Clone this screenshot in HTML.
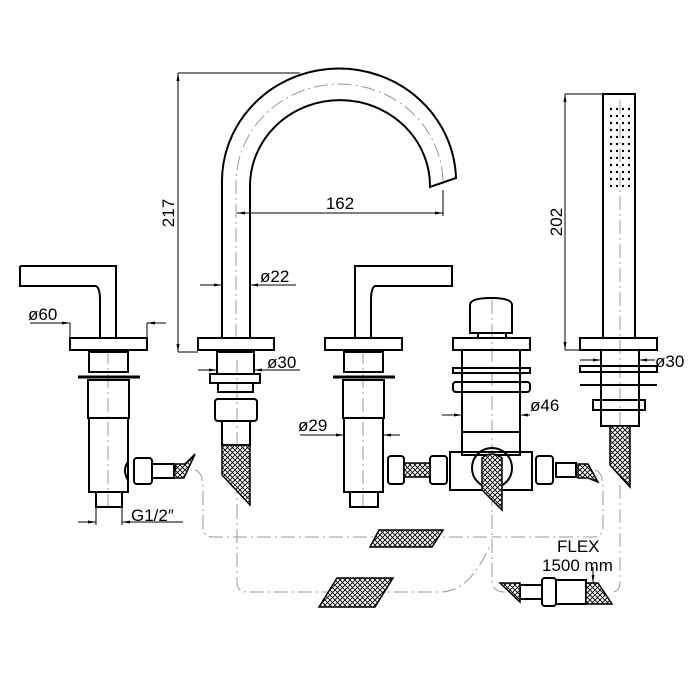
<!DOCTYPE html>
<html><head><style>body{margin:0;background:#fff}svg{display:block}</style></head><body>
<svg width="700" height="700" viewBox="0 0 700 700" xmlns="http://www.w3.org/2000/svg" font-family="Liberation Sans, sans-serif">
<defs>
<pattern id="h" width="5" height="5" patternUnits="userSpaceOnUse"><rect width="5" height="5" fill="#fff"/><path d="M0,0L5,5M5,0L0,5" stroke="#000" stroke-width="0.9"/></pattern>
<marker id="a" markerWidth="8" markerHeight="6" refX="8" refY="3" orient="auto"><path d="M0,1.5L8,3L0,4.5Z" fill="#000"/></marker>
</defs>
<g fill="none" stroke="#999" stroke-width="1" stroke-dasharray="14,4,2,4">
<path d="M195,470 Q203,472 203,490 L203,527 Q203,537 213,537 L490,537"/>
<path d="M237,505 L237,582 Q237,592 247,592 L440,592 Q470,592 490,545"/>
<path d="M492,515 L492,580 Q492,592 505,592"/>
<path d="M595,470 Q603,472 603,490 L603,527 Q603,537 593,537 L492,537"/>
<path d="M620,485 L620,582 Q620,592 612,592"/>
<path d="M108,350 V510 M237,360 V520 M363,350 V510 M492,300 V520 M620,100 V440"/>
<path d="M236,338 V185 A101 97 0 0 1 443,182"/>
</g>
<g fill="none" stroke="#000" stroke-width="2">
<!-- left valve -->
<path d="M20,266H116V338M20,266V286H96Q100,288 100,300V338"/>
<rect x="70" y="338" width="77" height="12"/>
<rect x="89" y="352" width="39" height="20"/>
<line x1="78" y1="377" x2="140" y2="377" stroke-width="3"/>
<rect x="88" y="380" width="41" height="38"/>
<rect x="89" y="418" width="39" height="74"/>
<rect x="96" y="492" width="26" height="15"/>
<rect x="134" y="458" width="18" height="26" rx="3"/>
<rect x="152" y="464" width="22" height="14"/>
<path d="M128,462 Q122,470 128,480"/>
<!-- spout -->
<path d="M222,338V185A115 111 0 0 1 456,178L430,187A87 83 0 0 0 250,185V338"/>
<rect x="198" y="338" width="76" height="12"/>
<rect x="217" y="352" width="37" height="22"/>
<rect x="210" y="374" width="50" height="9"/>
<rect x="218" y="383" width="35" height="9"/>
<rect x="215" y="399" width="42" height="22" rx="3"/>
<rect x="222" y="421" width="28" height="24"/>
<!-- middle valve -->
<path d="M355,338V266H452V286H375Q371,288 371,300V338"/>
<rect x="325" y="338" width="77" height="12"/>
<rect x="344" y="352" width="39" height="20"/>
<line x1="333" y1="377" x2="395" y2="377" stroke-width="3"/>
<rect x="343" y="380" width="41" height="38"/>
<rect x="344" y="418" width="39" height="74"/>
<rect x="350" y="492" width="28" height="15"/>
<rect x="388" y="456" width="16" height="28" rx="3"/>
<rect x="430" y="456" width="17" height="28" rx="3"/>
<!-- diverter -->
<path d="M470,333V305Q470,298 491,298Q512,298 512,305V333Z"/>
<rect x="478" y="333" width="28" height="5"/>
<rect x="453" y="338" width="77" height="12"/>
<rect x="462" y="350" width="58" height="105"/>
<rect x="453" y="368" width="77" height="5"/>
<rect x="453" y="382" width="77" height="10" rx="3"/>
<line x1="462" y1="432" x2="520" y2="432"/>
<rect x="450" y="452" width="82" height="38"/>
<circle cx="492" cy="468" r="20"/>
<rect x="536" y="456" width="17" height="28" rx="3"/>
<rect x="556" y="463" width="20" height="14"/>
<!-- shower -->
<rect x="603" y="94" width="32" height="244"/>
<rect x="580" y="338" width="77" height="12"/>
<rect x="601" y="350" width="38" height="76"/>
<rect x="580" y="366" width="77" height="6"/>
<line x1="580" y1="385" x2="657" y2="385"/>
<rect x="593" y="400" width="52" height="10"/>
<!-- bottom fitting -->
<rect x="520" y="585" width="22" height="14"/>
<rect x="542" y="578" width="14" height="28" rx="3"/>
<rect x="556" y="580" width="30" height="24"/>
</g>
<g fill="url(#h)" stroke="#000" stroke-width="1.5">
<path d="M222,445H250V505L222,475Z"/>
<path d="M610,426H630V487L610,465Z"/>
<path d="M482,458Q492,450 502,458V510L482,490Z"/>
<path d="M176,464H185L195,454L184,478H174Z"/>
<path d="M404,463H430V477H404Z"/>
<path d="M578,464H588L598,482L588,478H578Z"/>
<path d="M370,547L379,530H443L432,547Z"/>
<path d="M319,607L337,578H393L375,607Z"/>
<path d="M500,583H520V602Z"/>
<path d="M586,583H598L612,604H586Z"/>
</g>
<g fill="#000">
<g id="dots"><circle cx="611" cy="109" r="1.2"/><circle cx="617" cy="109" r="1.2"/><circle cx="623" cy="109" r="1.2"/><circle cx="629" cy="109" r="1.2"/></g>
<use href="#dots" y="7"/><use href="#dots" y="14"/><use href="#dots" y="21"/><use href="#dots" y="28"/><use href="#dots" y="35"/><use href="#dots" y="42"/><use href="#dots" y="49"/><use href="#dots" y="56"/><use href="#dots" y="63"/><use href="#dots" y="70"/><use href="#dots" y="77"/>
</g>
<!-- dimensions -->
<g stroke="#000" stroke-width="1" fill="none">
<path d="M178,73H300M178,352H198"/>
<line x1="178" y1="352" x2="178" y2="73" marker-end="url(#a)"/>
<line x1="178" y1="73" x2="178" y2="352" marker-end="url(#a)"/>
<line x1="443" y1="190" x2="443" y2="216"/>
<line x1="340" y1="213" x2="237" y2="213" marker-end="url(#a)"/>
<line x1="340" y1="213" x2="443" y2="213" marker-end="url(#a)"/>
<path d="M565,94H603M565,350H580"/>
<line x1="565" y1="250" x2="565" y2="94" marker-end="url(#a)"/>
<line x1="565" y1="250" x2="565" y2="350" marker-end="url(#a)"/>
<line x1="30" y1="323" x2="70" y2="323" marker-end="url(#a)"/>
<line x1="166" y1="323" x2="147" y2="323" marker-end="url(#a)"/>
<line x1="70" y1="323" x2="70" y2="338"/><line x1="147" y1="323" x2="147" y2="338"/>
<line x1="200" y1="285" x2="222" y2="285" marker-end="url(#a)"/>
<line x1="296" y1="285" x2="250" y2="285" marker-end="url(#a)"/>
<line x1="198" y1="370" x2="217" y2="370" marker-end="url(#a)"/>
<line x1="300" y1="370" x2="254" y2="370" marker-end="url(#a)"/>
<line x1="300" y1="435" x2="344" y2="435" marker-end="url(#a)"/>
<line x1="400" y1="435" x2="383" y2="435" marker-end="url(#a)"/>
<line x1="442" y1="415" x2="462" y2="415" marker-end="url(#a)"/>
<line x1="530" y1="415" x2="520" y2="415" marker-end="url(#a)"/>
<line x1="580" y1="360" x2="601" y2="360" marker-end="url(#a)"/>
<line x1="655" y1="360" x2="639" y2="360" marker-end="url(#a)"/>
<line x1="78" y1="522" x2="96" y2="522" marker-end="url(#a)"/>
<line x1="183" y1="522" x2="122" y2="522" marker-end="url(#a)"/>
<line x1="96" y1="507" x2="96" y2="525"/><line x1="122" y1="507" x2="122" y2="525"/>
<line x1="593" y1="567" x2="593" y2="583" marker-end="url(#a)"/>
</g>
<g font-size="17" fill="#000">
<text x="174" y="213" transform="rotate(-90 174 213)" text-anchor="middle">217</text>
<text x="340" y="209" text-anchor="middle">162</text>
<text x="562" y="222" transform="rotate(-90 562 222)" text-anchor="middle">202</text>
<text x="28" y="320">ø60</text>
<text x="260" y="282">ø22</text>
<text x="267" y="368">ø30</text>
<text x="298" y="431">ø29</text>
<text x="530" y="411">ø46</text>
<text x="655" y="367">ø30</text>
<text x="131" y="521">G1/2″</text>
<text x="557" y="552">FLEX</text>
<text x="542" y="571">1500 mm</text>
</g>
</svg>
</body></html>
